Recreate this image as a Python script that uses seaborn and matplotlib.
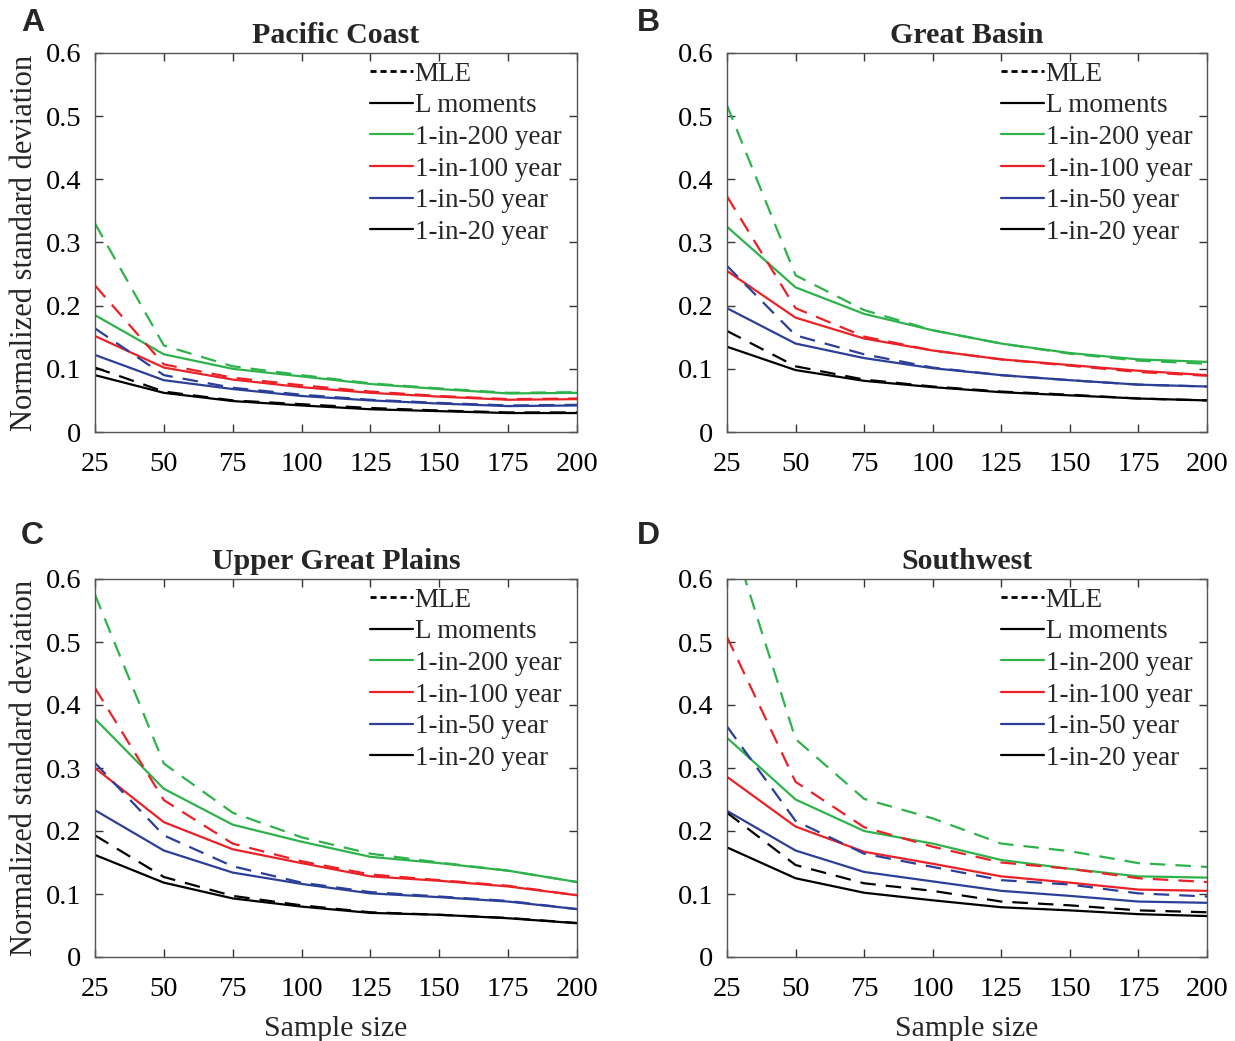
import numpy as np
import pandas as pd
import matplotlib
matplotlib.use("Agg")
import matplotlib.pyplot as plt
from matplotlib.lines import Line2D
import seaborn as sns

# ---------------- data ----------------
sample_size = [25, 50, 75, 100, 125, 150, 175, 200]
periods = ["1-in-200 year", "1-in-100 year", "1-in-50 year", "1-in-20 year"]
regions = ["Pacific Coast", "Great Basin", "Upper Great Plains", "Southwest"]
panel_letters = ["A", "B", "C", "D"]

# Pacific Coast
pc_mle_200 = [0.330, 0.137, 0.104, 0.090, 0.077, 0.069, 0.062, 0.063]
pc_lm_200 = [0.185, 0.123, 0.100, 0.088, 0.076, 0.068, 0.061, 0.062]
pc_mle_100 = [0.232, 0.107, 0.086, 0.074, 0.064, 0.057, 0.052, 0.053]
pc_lm_100 = [0.152, 0.102, 0.083, 0.071, 0.062, 0.056, 0.051, 0.052]
pc_mle_50 = [0.164, 0.090, 0.070, 0.059, 0.051, 0.046, 0.042, 0.043]
pc_lm_50 = [0.122, 0.082, 0.068, 0.057, 0.050, 0.045, 0.041, 0.042]
pc_mle_20 = [0.102, 0.064, 0.050, 0.044, 0.038, 0.034, 0.031, 0.031]
pc_lm_20 = [0.090, 0.062, 0.049, 0.042, 0.036, 0.033, 0.030, 0.030]

# Great Basin
gb_mle_200 = [0.517, 0.248, 0.193, 0.161, 0.140, 0.124, 0.113, 0.108]
gb_lm_200 = [0.325, 0.229, 0.187, 0.161, 0.140, 0.125, 0.115, 0.111]
gb_mle_100 = [0.373, 0.196, 0.151, 0.129, 0.115, 0.105, 0.095, 0.089]
gb_lm_100 = [0.255, 0.181, 0.148, 0.129, 0.115, 0.106, 0.097, 0.090]
gb_mle_50 = [0.263, 0.153, 0.123, 0.102, 0.090, 0.082, 0.075, 0.072]
gb_lm_50 = [0.196, 0.140, 0.117, 0.101, 0.090, 0.082, 0.075, 0.072]
gb_mle_20 = [0.160, 0.104, 0.083, 0.072, 0.064, 0.059, 0.053, 0.050]
gb_lm_20 = [0.135, 0.098, 0.081, 0.071, 0.063, 0.058, 0.053, 0.050]

# Upper Great Plains
ugp_mle_200 = [0.575, 0.307, 0.229, 0.190, 0.164, 0.150, 0.137, 0.119]
ugp_lm_200 = [0.378, 0.267, 0.210, 0.183, 0.159, 0.149, 0.137, 0.119]
ugp_mle_100 = [0.427, 0.249, 0.180, 0.152, 0.131, 0.122, 0.113, 0.098]
ugp_lm_100 = [0.300, 0.214, 0.171, 0.149, 0.128, 0.121, 0.112, 0.098]
ugp_mle_50 = [0.308, 0.193, 0.144, 0.118, 0.103, 0.096, 0.089, 0.076]
ugp_lm_50 = [0.233, 0.169, 0.134, 0.116, 0.101, 0.095, 0.088, 0.076]
ugp_mle_20 = [0.193, 0.127, 0.097, 0.082, 0.071, 0.067, 0.062, 0.054]
ugp_lm_20 = [0.162, 0.118, 0.093, 0.080, 0.070, 0.067, 0.0615, 0.0536]

# Southwest
sw_mle_200 = [0.691, 0.346, 0.251, 0.220, 0.180, 0.168, 0.149, 0.143]
sw_lm_200 = [0.348, 0.250, 0.200, 0.180, 0.154, 0.140, 0.128, 0.126]
sw_mle_100 = [0.508, 0.278, 0.206, 0.175, 0.150, 0.140, 0.125, 0.119]
sw_lm_100 = [0.286, 0.207, 0.167, 0.148, 0.128, 0.118, 0.107, 0.105]
sw_mle_50 = [0.366, 0.216, 0.164, 0.143, 0.122, 0.115, 0.101, 0.096]
sw_lm_50 = [0.232, 0.169, 0.135, 0.120, 0.105, 0.097, 0.088, 0.086]
sw_mle_20 = [0.229, 0.146, 0.117, 0.105, 0.088, 0.082, 0.074, 0.071]
sw_lm_20 = [0.174, 0.125, 0.102, 0.090, 0.079, 0.074, 0.068, 0.065]

region_series = {
    "Pacific Coast": {("MLE", p): v for p, v in zip(periods, [pc_mle_200, pc_mle_100, pc_mle_50, pc_mle_20])}
    | {("L moments", p): v for p, v in zip(periods, [pc_lm_200, pc_lm_100, pc_lm_50, pc_lm_20])},
    "Great Basin": {("MLE", p): v for p, v in zip(periods, [gb_mle_200, gb_mle_100, gb_mle_50, gb_mle_20])}
    | {("L moments", p): v for p, v in zip(periods, [gb_lm_200, gb_lm_100, gb_lm_50, gb_lm_20])},
    "Upper Great Plains": {("MLE", p): v for p, v in zip(periods, [ugp_mle_200, ugp_mle_100, ugp_mle_50, ugp_mle_20])}
    | {("L moments", p): v for p, v in zip(periods, [ugp_lm_200, ugp_lm_100, ugp_lm_50, ugp_lm_20])},
    "Southwest": {("MLE", p): v for p, v in zip(periods, [sw_mle_200, sw_mle_100, sw_mle_50, sw_mle_20])}
    | {("L moments", p): v for p, v in zip(periods, [sw_lm_200, sw_lm_100, sw_lm_50, sw_lm_20])},
}

# ---------------- style ----------------
sns.set_style("ticks")
plt.rcParams["font.family"] = ["Liberation Serif", "DejaVu Serif"]

palette = {
    "1-in-200 year": "#2eb24b",
    "1-in-100 year": "#ec2127",
    "1-in-50 year": "#2b3f98",
    "1-in-20 year": "#000000",
}
dash_map = {"MLE": (7, 4.5), "L moments": ""}

fig = plt.figure(figsize=(12.35, 10.41), dpi=100)
W, H = 1235, 1041
boxes = [
    (95, 53, 577, 432),
    (727, 53, 1207, 432),
    (95, 579, 577, 957),
    (727, 579, 1207, 957),
]
letter_pos = [(21, 23), (637, 23), (21, 536), (637, 536)]

for i, region in enumerate(regions):
    x0, y0, x1, y1 = boxes[i]
    ax = fig.add_axes([x0 / W, 1 - y1 / H, (x1 - x0) / W, (y1 - y0) / H])
    rows = []
    for (method, period), vals in region_series[region].items():
        for s, v in zip(sample_size, vals):
            rows.append({"Sample size": s, "value": v, "period": period, "method": method})
    df = pd.DataFrame(rows)
    sns.lineplot(
        data=df, x="Sample size", y="value", hue="period", style="method",
        hue_order=periods, style_order=["MLE", "L moments"],
        palette=palette, dashes=dash_map, linewidth=1.6, ax=ax, legend=False,
        errorbar=None,
    )
    ax.set_xlim(25, 200)
    ax.set_ylim(0, 0.6)
    ax.set_xticks(sample_size)
    ax.set_xticklabels([str(s) for s in sample_size])
    yt = [0, 0.1, 0.2, 0.3, 0.4, 0.5, 0.6]
    ax.set_yticks(yt)
    ax.set_yticklabels(["0", "0.1", "0.2", "0.3", "0.4", "0.5", "0.6"])
    ax.tick_params(direction="in", top=True, right=True, length=6, width=1.0,
                   labelsize=20.5, colors="#333333", labelcolor="black")
    ax.tick_params(axis="x", pad=14.5)
    ax.tick_params(axis="y", pad=10)
    for sp in ax.spines.values():
        sp.set_visible(True)
        sp.set_color("#555555")
        sp.set_linewidth(1.0)
    ax.set_title(region, fontsize=21.5, fontweight="bold", pad=7)
    if i % 2 == 0:
        ax.set_ylabel("Normalized standard deviation", fontsize=22, labelpad=5)
    else:
        ax.set_ylabel("")
    if i >= 2:
        ax.set_xlabel("Sample size", fontsize=21.5, labelpad=10)
    else:
        ax.set_xlabel("")

    handles = [
        Line2D([], [], color="black", linestyle=(0, (2.2, 1.4)), linewidth=2.0),
        Line2D([], [], color="black", linewidth=1.6),
    ] + [Line2D([], [], color=palette[p], linewidth=1.6) for p in periods]
    labels = ["MLE", "L moments"] + periods
    ax.legend(handles, labels, loc="upper left", bbox_to_anchor=(0.537, 1.02),
              frameon=False, fontsize=19.5, handlelength=1.6, handletextpad=0.05,
              labelspacing=0.245, borderaxespad=0.2)

    lx, ly = letter_pos[i]
    fig.text(lx / W, 1 - ly / H, panel_letters[i], fontsize=23, fontweight="bold",
             family=["Liberation Sans", "DejaVu Sans"], ha="left", va="center")

fig.savefig("out.png", dpi=100)
